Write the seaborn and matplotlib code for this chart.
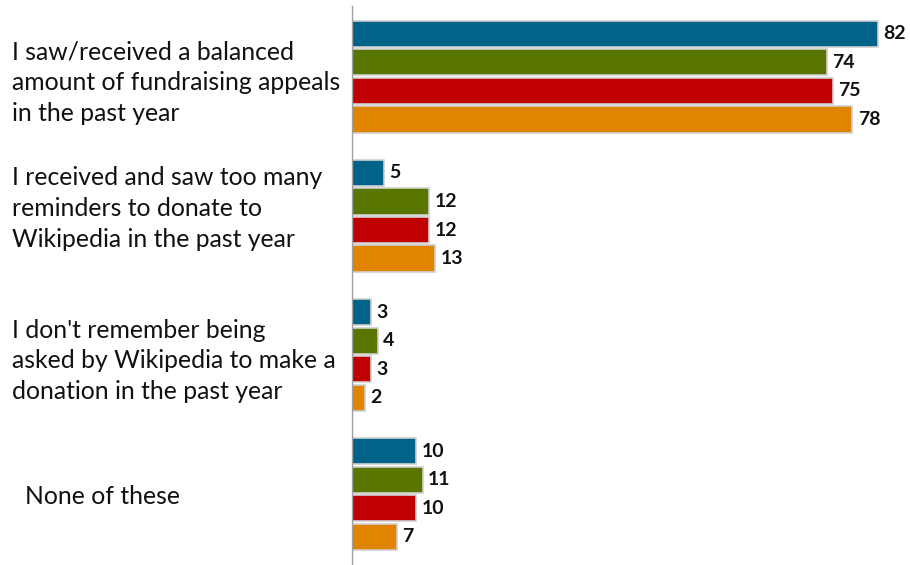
import pandas as pd
import matplotlib
matplotlib.use("Agg")
import matplotlib.pyplot as plt
import matplotlib.transforms as mtransforms
import seaborn as sns

# ---- data ----
statements = [
    "I saw/received a balanced\namount of fundraising appeals\nin the past year",
    "I received and saw too many\nreminders to donate to\nWikipedia in the past year",
    "I don't remember being\nasked by Wikipedia to make a\ndonation in the past year",
    "None of these",
]
series = ["S1", "S2", "S3", "S4"]
s1_values = [82, 5, 3, 10]
s2_values = [74, 12, 4, 11]
s3_values = [75, 12, 3, 10]
s4_values = [78, 13, 2, 7]

colors = ["#016388", "#587600", "#c00000", "#e08400"]

# long format for seaborn
rows = []
for name, vals in zip(series, [s1_values, s2_values, s3_values, s4_values]):
    for stmt, v in zip(statements, vals):
        rows.append({"statement": stmt, "series": name, "value": v})
df = pd.DataFrame(rows)

sns.set_theme(style="white")
plt.rcParams["font.family"] = ["Lato", "DejaVu Sans"]

fig = plt.figure(figsize=(9.1, 5.65), dpi=100)
ax = fig.add_axes([352 / 910, 0.0, 1 - 352 / 910, 0.99])

sns.barplot(data=df, y="statement", x="value", hue="series", order=statements,
            hue_order=series, palette=colors, saturation=1, orient="h",
            width=0.82, gap=0.08, edgecolor="#cfcfcf", linewidth=1.2,
            legend=False, ax=ax)

for cont in ax.containers:
    ax.bar_label(cont, padding=4, fontsize=14, fontweight="bold", color="#111111")

ax.set_xlim(0, 87)
ax.set_ylim(3.51, -0.51)
ax.set_xlabel("")
ax.set_ylabel("")
ax.set_xticks([])
ax.tick_params(axis="y", length=0, pad=245)
for lab in ax.get_yticklabels():
    lab.set_horizontalalignment("left")
    lab.set_fontsize(17.8)
    lab.set_color("#111111")
    lab.set_linespacing(1.4)

# the original labels are not all centred on their bars
labels = ax.get_yticklabels()
labels[1].set_transform(labels[1].get_transform() +
                        mtransforms.ScaledTranslation(0, 0.13, fig.dpi_scale_trans))
labels[3].set_x(0.024)

for side in ["top", "right", "bottom"]:
    ax.spines[side].set_visible(False)
ax.spines["left"].set_color("#a0a0a0")
ax.spines["left"].set_linewidth(1)

fig.savefig("out.png", dpi=100)
